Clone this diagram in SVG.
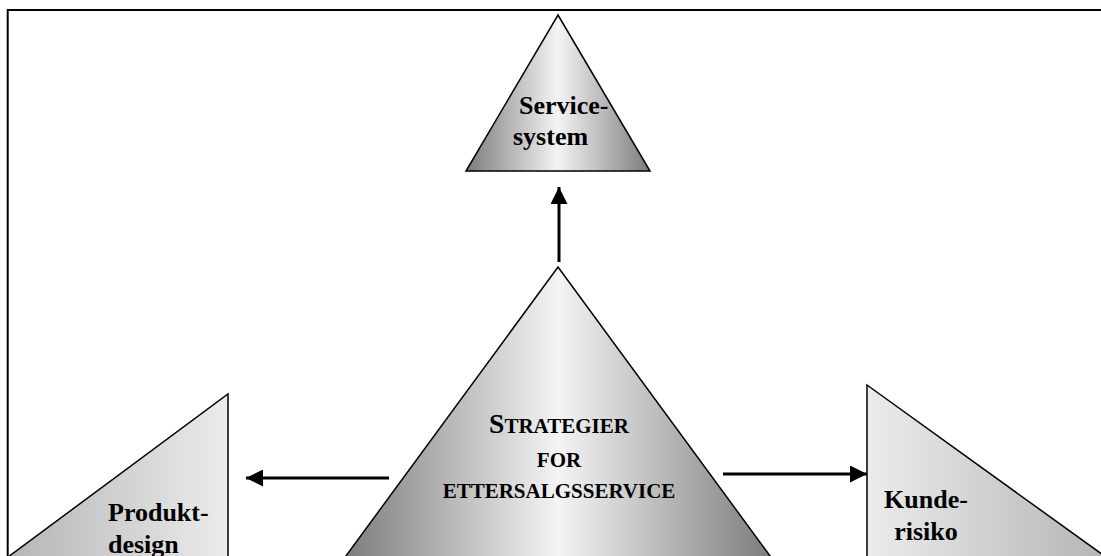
<svg xmlns="http://www.w3.org/2000/svg" width="1101" height="556" viewBox="0 0 1101 556">
<style>
.tri{stroke:#000;stroke-width:1.5;stroke-linejoin:miter}
.lbl{font-family:"Liberation Serif","Times New Roman",serif;font-weight:bold;font-size:26px;fill:#000}
.sc{font-family:"Liberation Serif","Times New Roman",serif;font-weight:bold;font-size:21px;fill:#000}
.big{font-size:27.5px}
.conn{stroke:#000;stroke-width:3;fill:none}
</style>
<defs>
<linearGradient id="gDark" x1="0" y1="0" x2="1" y2="0">
<stop offset="0" stop-color="#7c7c7c"/>
<stop offset="0.5" stop-color="#f4f4f4"/>
<stop offset="1" stop-color="#7c7c7c"/>
</linearGradient>
<linearGradient id="gLeft" x1="0" y1="0" x2="1" y2="0">
<stop offset="0" stop-color="#b4b4b4"/>
<stop offset="1" stop-color="#ececec"/>
</linearGradient>
<linearGradient id="gRight" x1="0" y1="0" x2="1" y2="0">
<stop offset="0" stop-color="#ececec"/>
<stop offset="1" stop-color="#b4b4b4"/>
</linearGradient>
<marker id="ah" viewBox="0 0 10 10" refX="10" refY="5" markerWidth="17" markerHeight="17" markerUnits="userSpaceOnUse" orient="auto">
<path d="M0,0 L10,5 L0,10 Z" fill="#000"/>
</marker>
</defs>
<rect width="1101" height="556" fill="#fff"/>
<path d="M7.7,560 V10 H1105" fill="none" stroke="#000" stroke-width="2"/>

<g id="servicesystem">
<polygon class="tri" points="558,15 650,171 466,171" fill="url(#gDark)"/>
<text class="lbl" x="519" y="114">Service-</text>
<text class="lbl" x="513" y="145">system</text>
</g>

<g id="strategier">
<polygon class="tri" points="558,267 773,560 343,560" fill="url(#gDark)"/>
<text class="sc" x="559" y="433" text-anchor="middle"><tspan class="big">S</tspan>TRATEGIER</text>
<text class="sc" x="559" y="467" text-anchor="middle">FOR</text>
<text class="sc" x="559" y="498" text-anchor="middle">ETTERSALGSSERVICE</text>
</g>

<g id="produktdesign">
<polygon class="tri" points="228,394 228,560 4,560" fill="url(#gLeft)"/>
<text class="lbl" x="108" y="521">Produkt-</text>
<text class="lbl" x="108" y="553">design</text>
</g>

<g id="kunderisiko">
<polygon class="tri" points="867,385 1110,560 867,560" fill="url(#gRight)"/>
<text class="lbl" x="926" y="508" text-anchor="middle">Kunde-</text>
<text class="lbl" x="926" y="540" text-anchor="middle">risiko</text>
</g>

<g id="connectors">
<line class="conn" x1="559" y1="262" x2="559" y2="187" marker-end="url(#ah)"/>
<line class="conn" x1="389" y1="478" x2="246" y2="478" marker-end="url(#ah)"/>
<line class="conn" x1="723" y1="474" x2="867" y2="474" marker-end="url(#ah)"/>
</g>
</svg>
